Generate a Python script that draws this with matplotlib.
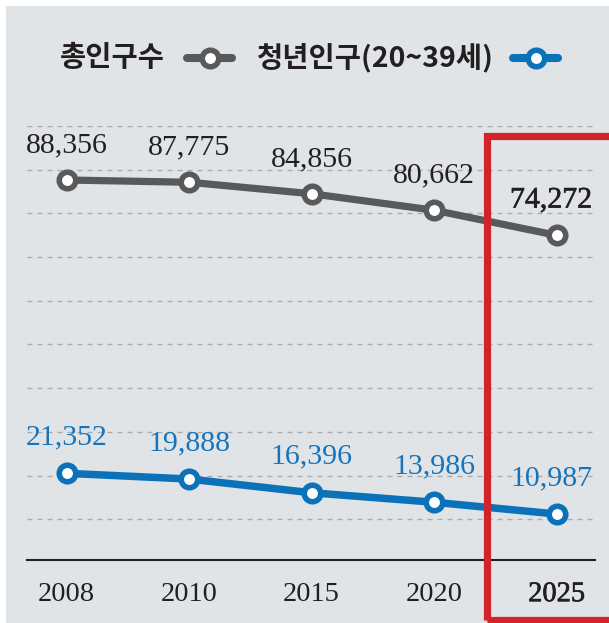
import matplotlib
matplotlib.use("Agg")
import matplotlib.pyplot as plt
from matplotlib.patches import Rectangle
from matplotlib.lines import Line2D
import matplotlib.patheffects as pe

# ---- data ----
years = ["2008", "2010", "2015", "2020", "2025"]
total_pop = [88356, 87775, 84856, 80662, 74272]
youth_pop = [21352, 19888, 16396, 13986, 10987]
legend_labels = ["총인구수", "청년인구(20~39세)"]

# ---- style ----
W, H = 609, 623
GRAY = "#58595b"
BLUE = "#0b72ba"
BLUE_TXT = "#1574bb"
DARK = "#231f20"
RED = "#d2232a"
BG = "#e1e4e7"
SERIF = ["Liberation Serif", "DejaVu Serif"]
KFONT = ["Noto Sans CJK KR", "DejaVu Sans"]

def fx(px):
    return px / W

def fy(py):
    return 1 - py / H

fig = plt.figure(figsize=(W / 100, H / 100), dpi=100)
fig.patch.set_facecolor("white")
fig.add_artist(Rectangle((fx(6), 0), 1, fy(6), transform=fig.transFigure,
                         facecolor=BG, edgecolor="none", zorder=-10))

ax_l, ax_r, ax_t, ax_b = 27, 595, 126, 560
ax = fig.add_axes([fx(ax_l), fy(ax_b), (ax_r - ax_l) / W, (ax_b - ax_t) / H])
ax2 = ax.twinx()
for a in (ax, ax2):
    a.patch.set_visible(False)
    for s in a.spines.values():
        s.set_visible(False)

x = list(range(len(years)))
ax.set_xlim(-0.324, 4.313)

# same vertical scale (units per pixel) for both series, offset baselines
span = 110430
g_min, b_min = -8336, -709
ax.set_ylim(g_min, g_min + span)
ax2.set_ylim(b_min, b_min + span)

# dashed gridlines (pixel-spaced)
grid_px = [ax_t + k * 43.7 for k in range(10)]
grid_vals = [g_min + (ax_b - p) / (ax_b - ax_t) * span for p in grid_px]
ax.set_yticks(grid_vals)
ax.yaxis.grid(True, linestyle=(0, (3.6, 3.6)), color="#a9abae", linewidth=1.0)
ax.tick_params(axis="y", length=0, labelleft=False)
ax2.set_yticks([])
ax.set_axisbelow(True)

ax.spines["bottom"].set_visible(True)
ax.spines["bottom"].set_color(DARK)
ax.spines["bottom"].set_linewidth(1.5)

mk = dict(marker="o", markersize=11.9, markerfacecolor="white", markeredgewidth=4.0)
ax.plot(x, total_pop, color=GRAY, linewidth=5.2, markeredgecolor=GRAY, zorder=3, **mk)
ax2.plot(x, youth_pop, color=BLUE, linewidth=5.4, markeredgecolor=BLUE, zorder=3, **mk)

for i, v in enumerate(total_pop):
    t = ax.annotate(f"{v:,}", (i, v), xytext=(-4 if i == 4 else 0, 25), textcoords="offset points",
                    ha="center", va="center", fontsize=21.5, family=SERIF, color=DARK,
                    annotation_clip=False)
    if i == 4:
        t.set_path_effects([pe.withStroke(linewidth=0.45, foreground=DARK)])
for i, v in enumerate(youth_pop):
    ax2.annotate(f"{v:,}", (i, v), xytext=(-4 if i == 4 else 0, 26), textcoords="offset points",
                 ha="center", va="center", fontsize=21.5, family=SERIF, color=BLUE_TXT,
                 annotation_clip=False)

ax.set_xticks(x)
ax.set_xticklabels(years, fontsize=20.5, family=SERIF, color=DARK)
ax.tick_params(axis="x", length=0, pad=16)
ax.get_xticklabels()[-1].set_path_effects([pe.withStroke(linewidth=0.45, foreground=DARK)])

# red highlight box around 2025
fig.add_artist(Rectangle((fx(486.5), fy(620)), fx(640) - fx(486.5), fy(135.5) - fy(620),
                         transform=fig.transFigure, facecolor="none", edgecolor=RED,
                         linewidth=5.2, zorder=20))

# legend
ly = fy(58)
fig.text(fx(60), ly, legend_labels[0], family=KFONT, weight="bold", fontsize=20.5,
         color=DARK, ha="left", va="center")
fig.text(fx(256), ly, legend_labels[1], family=KFONT, weight="bold", fontsize=20.5,
         color=DARK, ha="left", va="center")
for (x0, x1, xc, c) in [(187, 232, 209.5, GRAY), (513, 558, 535.5, BLUE)]:
    fig.add_artist(Line2D([fx(x0), fx(x1)], [ly, ly], transform=fig.transFigure,
                          color=c, linewidth=5.8, solid_capstyle="round"))
    fig.add_artist(Line2D([fx(xc)], [ly], transform=fig.transFigure, color=c,
                          markeredgecolor=c, **mk))

fig.savefig("out.png", dpi=100, facecolor=fig.get_facecolor())
